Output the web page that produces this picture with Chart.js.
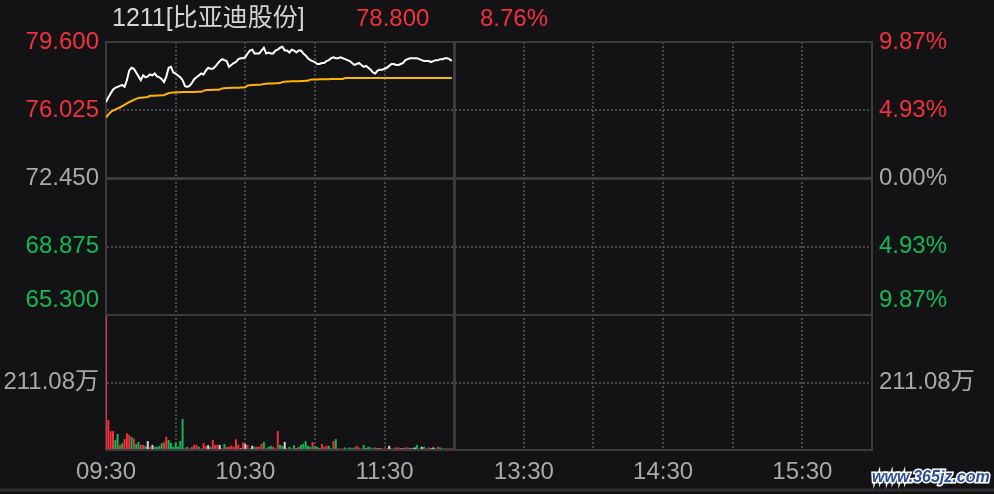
<!DOCTYPE html>
<html>
<head>
<meta charset="utf-8">
<script src="https://cdn.jsdelivr.net/npm/chart.js@4.4.1/dist/chart.umd.min.js"></script>
<style>
  html, body { margin: 0; padding: 0; background: #131316; }
  canvas { display: block; }
</style>
</head>
<body>
<canvas id="c" width="994" height="494"></canvas>
<script>
// header
const stockName = '1211[比亚迪股份]'
const lastPrice = '78.800'
const lastChange = '8.76%'
const prevClose = 72.45

// axes
const priceTicks = [65.3, 68.875, 72.45, 76.025, 79.6]
const volTicks = [0, 211.08, 422.16]
const volUnit = '万'
const timeLabels = { 0: '09:30', 60: '10:30', 120: '11:30', 180: '13:30', 240: '14:30', 300: '15:30' }
const totalMinutes = 330
const lunchBreak = 150

// minute data, 09:30 onwards
const prices = [
  76.45, 76.70, 76.90, 77.10, 77.20, 77.25, 77.30, 77.35, 77.25, 77.60,
  78.10, 78.25, 78.20, 78.00, 77.80, 77.60, 77.85, 77.75, 77.80, 77.90,
  77.85, 77.95, 77.80, 77.75, 77.65, 77.50, 77.80, 78.25, 78.30, 78.00,
  77.95, 77.85, 77.75, 77.60, 77.30, 77.25, 77.30, 77.45, 77.65, 77.75,
  77.85, 77.95, 77.90, 78.10, 78.25, 78.20, 78.20, 78.30, 78.45, 78.60,
  78.70, 78.65, 78.60, 78.30, 78.40, 78.50, 78.55, 78.70, 78.75, 78.75,
  78.80, 79.00, 79.15, 79.20, 79.00, 79.00, 79.00, 79.15, 79.30, 79.00,
  79.05, 79.00, 79.00, 79.15, 79.20, 79.30, 79.35, 79.15, 79.15, 79.05,
  79.20, 79.15, 79.05, 79.15, 79.15, 79.00, 78.90, 78.75, 78.65, 78.60,
  78.55, 78.45, 78.45, 78.50, 78.50, 78.60, 78.65, 78.75, 78.80, 78.75,
  78.75, 78.80, 78.75, 78.70, 78.65, 78.60, 78.50, 78.40, 78.45, 78.50,
  78.40, 78.30, 78.35, 78.25, 78.15, 78.00, 77.95, 78.10, 78.15, 78.15,
  78.20, 78.25, 78.35, 78.45, 78.45, 78.40, 78.40, 78.45, 78.50, 78.65,
  78.70, 78.75, 78.75, 78.75, 78.75, 78.70, 78.65, 78.60, 78.60, 78.60,
  78.55, 78.60, 78.65, 78.65, 78.70, 78.70, 78.75, 78.75, 78.70, 78.60
]

const avgPrices = [
  75.64, 75.80, 75.93, 76.00, 76.06, 76.12, 76.17, 76.24, 76.31, 76.38,
  76.45, 76.51, 76.57, 76.62, 76.67, 76.68, 76.69, 76.71, 76.72, 76.78,
  76.79, 76.79, 76.80, 76.80, 76.81, 76.81, 76.88, 76.92, 76.94, 76.95,
  76.96, 76.97, 76.97, 76.98, 76.98, 76.98, 76.98, 76.98, 76.98, 76.99,
  76.99, 76.99, 77.04, 77.08, 77.09, 77.09, 77.10, 77.10, 77.10, 77.11,
  77.17, 77.18, 77.19, 77.19, 77.20, 77.20, 77.21, 77.21, 77.22, 77.22,
  77.23, 77.32, 77.34, 77.35, 77.35, 77.36, 77.36, 77.37, 77.40, 77.41,
  77.42, 77.42, 77.43, 77.44, 77.44, 77.45, 77.51, 77.52, 77.53, 77.53,
  77.54, 77.54, 77.55, 77.55, 77.56, 77.56, 77.57, 77.57, 77.63, 77.64,
  77.64, 77.64, 77.65, 77.65, 77.65, 77.65, 77.65, 77.66, 77.66, 77.66,
  77.66, 77.66, 77.66, 77.71, 77.72, 77.72, 77.72, 77.72, 77.72, 77.72,
  77.72, 77.72, 77.72, 77.72, 77.72, 77.72, 77.72, 77.72, 77.72, 77.72,
  77.72, 77.72, 77.72, 77.72, 77.72, 77.72, 77.72, 77.72, 77.72, 77.72,
  77.72, 77.72, 77.72, 77.72, 77.72, 77.72, 77.72, 77.72, 77.72, 77.72,
  77.72, 77.72, 77.72, 77.72, 77.72, 77.72, 77.72, 77.72, 77.72, 77.72
]

// volume in 万 shares
const volumes = [
  419, 94, 59, 59, 31, 50, 16, 21, 34, 52,
  47, 41, 36, 19, 25, 16, 16, 13, 28, 10,
  16, 10, 10, 13, 21, 24, 41, 31, 23, 10,
  23, 10, 28, 97, 5, 10, 5, 10, 16, 16,
  10, 5, 21, 13, 15, 10, 31, 16, 16, 16,
  5, 19, 10, 10, 14, 10, 34, 16, 5, 23,
  19, 15, 5, 13, 10, 10, 10, 19, 25, 5,
  10, 13, 10, 5, 59, 16, 13, 25, 5, 10,
  5, 15, 5, 10, 16, 19, 28, 13, 10, 25,
  13, 10, 5, 19, 10, 13, 13, 5, 28, 34,
  5, 5, 5, 8, 5, 8, 5, 8, 13, 8,
  5, 16, 5, 10, 8, 5, 8, 5, 5, 5,
  5, 5, 13, 5, 5, 8, 8, 5, 5, 8,
  8, 5, 5, 8, 16, 5, 10, 10, 5, 8,
  5, 8, 5, 10, 8, 5, 5, 5, 5, 5
]

// 1 up, -1 down, 0 unchanged
const volDir = [
  1, 1, 1, 1, -1, -1, 1, -1, 1, 1,
  1, -1, 1, -1, -1, 1, 1, -1, 0, 1,
  0, -1, -1, -1, -1, 1, 1, -1, -1, -1,
  -1, -1, -1, -1, 1, -1, 1, 1, 1, 1,
  -1, 1, 1, 1, 0, -1, 1, 1, 1, 0,
  1, -1, 1, 1, 1, 1, 1, 1, 0, 1,
  0, 1, -1, 0, -1, 1, 1, 1, -1, 1,
  -1, -1, 1, 1, 1, -1, -1, 0, 1, -1,
  -1, -1, 0, 1, -1, -1, -1, -1, -1, 1,
  -1, -1, 0, 1, 1, 1, -1, -1, 1, -1,
  1, 1, 1, -1, -1, -1, -1, -1, 1, 1,
  -1, -1, 0, -1, -1, -1, 1, 0, 0, 1,
  1, 1, 0, -1, 1, 1, 1, 0, 0, 1,
  1, 0, 0, 0, -1, 1, 0, -1, 1, 1,
  0, 0, -1, 1, -1, -1, -1, 1, 1, 1
]

const RED = '#f2313b'
const GREEN = '#12b853'
const FLAT = '#d8d8da'
const GRAY = '#a9a9ab'
const GRID = '#3b3b3e'
const DOT = '#47474b'
const NONE = 'rgba(0,0,0,0)'
const BG = '#131316'
const fontFamily = '"Liberation Sans", "Noto Sans CJK SC", sans-serif'

const near = (a, b) => a !== null && Math.abs(a - b) < 1e-6
const priceColor = v => near(v, prevClose) ? GRAY : (v > prevClose ? RED : GREEN)
const pctText = v => (Math.abs(v - prevClose) / prevClose * 100).toFixed(2) + '%'
const setTicks = vals => scale => { scale.ticks = vals.map(v => ({ value: v })) }
const fixWidth = w => scale => { scale.width = w }
const tickVal = ctx => ctx.tick ? ctx.tick.value : null

// lowest price label sits above its line
const lowLabel = (v, txt) => near(v, priceTicks[0]) ? [txt, ''] : txt

// top, bottom and previous close are solid; the rest dotted
const solidPrice = v => near(v, prevClose) || near(v, priceTicks[0]) || near(v, priceTicks[priceTicks.length - 1])

const barColors = volDir.map(d => d > 0 ? RED : (d < 0 ? GREEN : FLAT))

const chrome = {
  id: 'chrome',
  beforeDraw(chart) {
    const ctx = chart.ctx
    ctx.save()
    ctx.fillStyle = BG
    ctx.fillRect(0, 0, chart.width, chart.height)
    ctx.restore()
  },
  afterDraw(chart) {
    const ctx = chart.ctx
    ctx.save()
    ctx.font = '25px ' + fontFamily
    ctx.textBaseline = 'middle'
    ctx.fillStyle = '#d4d4d6'
    ctx.fillText(stockName, 112, 19)
    ctx.fillStyle = RED
    ctx.font = '24px ' + fontFamily
    ctx.fillText(lastPrice, 356, 19)
    ctx.fillText(lastChange, 480, 19)

    ctx.strokeStyle = '#2e2e31'
    ctx.lineWidth = 3
    ctx.beginPath()
    ctx.moveTo(0, 490)
    ctx.lineTo(chart.width, 490)
    ctx.stroke()

    ctx.font = 'bold italic 16px "Liberation Sans", sans-serif'
    ctx.lineWidth = 3
    ctx.strokeStyle = '#ffffff'
    ctx.fillStyle = '#2a4e9c'
    ctx.strokeText('www.365jz.com', 872, 478)
    ctx.fillText('www.365jz.com', 872, 478)
    ctx.restore()
  }
}

const tickFont = { family: fontFamily, size: 24, lineHeight: 1.25 }

new Chart(document.getElementById('c'), {
  type: 'line',
  data: {
    datasets: [
      {
        type: 'line',
        label: 'price',
        data: prices.map((p, i) => ({ x: i, y: p })),
        yAxisID: 'yPrice',
        borderColor: '#ffffff',
        borderWidth: 2,
        pointRadius: 0,
        tension: 0
      },
      {
        type: 'line',
        label: 'avg',
        data: avgPrices.map((p, i) => ({ x: i, y: p })),
        yAxisID: 'yPrice',
        borderColor: '#ffb400',
        borderWidth: 2,
        pointRadius: 0,
        tension: 0
      },
      {
        type: 'bar',
        label: 'volume',
        data: volumes.map((v, i) => ({ x: i, y: v })),
        yAxisID: 'yVol',
        backgroundColor: barColors,
        borderWidth: 0,
        barPercentage: 0.85,
        categoryPercentage: 1
      }
    ]
  },
  options: {
    responsive: false,
    animation: false,
    events: [],
    layout: { padding: { top: 42, left: 0, right: 0, bottom: 0 } },
    plugins: { legend: { display: false }, tooltip: { enabled: false } },
    scales: {
      x: {
        type: 'linear',
        min: 0,
        max: totalMinutes,
        offset: false,
        afterFit: scale => { scale.height = 44 },
        ticks: {
          stepSize: 30,
          autoSkip: false,
          maxRotation: 0,
          padding: 8,
          color: GRAY,
          font: { family: fontFamily, size: 24 },
          callback: v => timeLabels[v] || ''
        },
        grid: {
          offset: false,
          drawTicks: false,
          lineWidth: 2,
          color: ctx => [0, lunchBreak, totalMinutes].includes(tickVal(ctx)) ? NONE : DOT
        },
        border: { color: GRID, width: 2, dash: [2, 2] }
      },
      // solid midday divider
      xSplit: {
        type: 'linear',
        position: 'bottom',
        min: 0,
        max: totalMinutes,
        offset: false,
        afterBuildTicks: setTicks([lunchBreak]),
        afterFit: scale => { scale.height = 0 },
        ticks: { display: false },
        grid: { offset: false, drawTicks: false, color: GRID, lineWidth: 3 },
        border: { display: false }
      },
      // left side is stacked in reverse order of declaration
      yVol: {
        type: 'linear',
        position: 'left',
        stack: 'left',
        stackWeight: 135,
        min: volTicks[0],
        max: volTicks[volTicks.length - 1],
        afterBuildTicks: setTicks(volTicks),
        afterFit: fixWidth(106),
        ticks: {
          autoSkip: false,
          padding: 7,
          font: tickFont,
          color: GRAY,
          callback: v => near(v, volTicks[1]) ? v.toFixed(2) + volUnit : ''
        },
        grid: {
          drawTicks: false,
          lineWidth: 2,
          color: ctx => near(tickVal(ctx), volTicks[0]) ? NONE : DOT
        },
        border: { color: GRID, width: 2, dash: [2, 2] }
      },
      yPrice: {
        type: 'linear',
        position: 'left',
        stack: 'left',
        stackWeight: 273,
        min: priceTicks[0],
        max: priceTicks[priceTicks.length - 1],
        afterBuildTicks: setTicks(priceTicks),
        afterFit: fixWidth(106),
        ticks: {
          autoSkip: false,
          padding: 7,
          font: tickFont,
          color: ctx => priceColor(tickVal(ctx)),
          callback: v => lowLabel(v, v.toFixed(3))
        },
        grid: {
          drawTicks: false,
          lineWidth: 2,
          color: ctx => solidPrice(tickVal(ctx)) ? NONE : DOT
        },
        border: { color: GRID, width: 2, dash: [2, 2] }
      },
      // right side also carries the solid price lines
      yPct: {
        type: 'linear',
        position: 'right',
        stack: 'right',
        stackWeight: 273,
        min: priceTicks[0],
        max: priceTicks[priceTicks.length - 1],
        afterBuildTicks: setTicks(priceTicks),
        afterFit: fixWidth(122),
        ticks: {
          autoSkip: false,
          padding: 7,
          font: tickFont,
          color: ctx => priceColor(tickVal(ctx)),
          callback: v => lowLabel(v, pctText(v))
        },
        grid: {
          drawTicks: false,
          color: ctx => solidPrice(tickVal(ctx)) ? GRID : NONE,
          lineWidth: ctx => near(tickVal(ctx), prevClose) ? 3 : 2
        },
        border: { color: GRID, width: 2 }
      },
      yVolR: {
        type: 'linear',
        position: 'right',
        stack: 'right',
        stackWeight: 135,
        min: volTicks[0],
        max: volTicks[volTicks.length - 1],
        afterBuildTicks: setTicks(volTicks),
        afterFit: fixWidth(122),
        ticks: {
          autoSkip: false,
          padding: 7,
          font: tickFont,
          color: GRAY,
          callback: v => near(v, volTicks[1]) ? v.toFixed(2) + volUnit : ''
        },
        grid: { drawTicks: false, drawOnChartArea: false },
        border: { color: GRID, width: 2 }
      }
    }
  },
  plugins: [chrome]
})
</script>
</body>
</html>
